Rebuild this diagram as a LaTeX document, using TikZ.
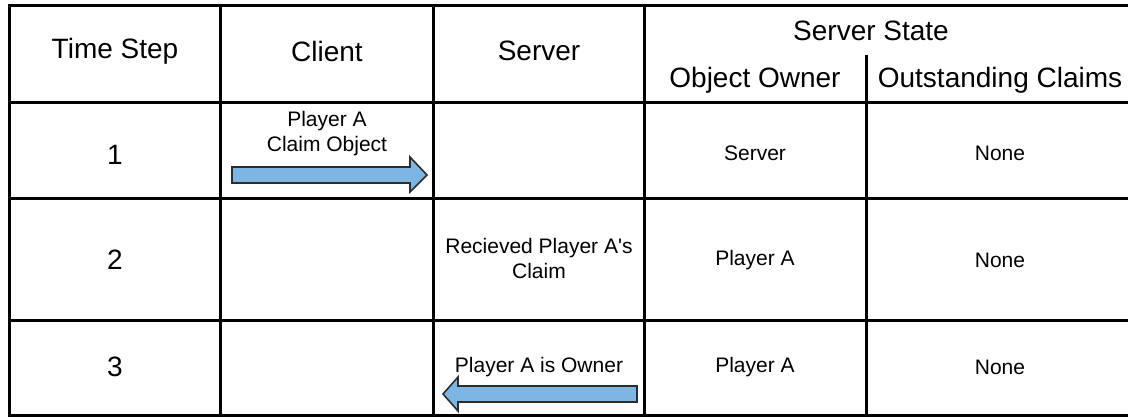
\documentclass[tikz,border=0pt]{standalone}
\usepackage{fontspec}
\setmainfont{Liberation Sans}
\definecolor{arrowblue}{RGB}{125,182,226}
\definecolor{arrowedge}{RGB}{45,45,45}
\begin{document}
\begin{tikzpicture}[x=1pt,y=-1pt,
  grid/.style={line width=3pt,black},
  big/.style={inner sep=0pt,font=\fontsize{28}{32}\selectfont},
  small/.style={inner sep=0pt,align=center,font=\fontsize{21}{25}\selectfont},
  blockarrow/.style={fill=arrowblue,draw=arrowedge,line width=1.6pt,line join=miter}]
\useasboundingbox (0,0) rectangle (1128,417);
\fill[white] (0,0) rectangle (1128,417);
% grid
\draw[grid] (1140,6) -- (9,6) -- (9,415) -- (1140,415);
\draw[grid] (9,103) -- (1140,103);
\draw[grid] (9,199) -- (1140,199);
\draw[grid] (9,320) -- (1140,320);
\draw[grid] (220,6) -- (220,415);
\draw[grid] (433,6) -- (433,415);
\draw[grid] (644,6) -- (644,415);
\draw[grid] (866,55) -- (866,415);
% header
\node[big] (hts) at (115,51) {Time Step};
\node[big] (hcl) at (327,51) {Client};
\node[big] (hsv) at (539,51) {Server};
\node[big] (hss) at (871,31) {Server State};
\node[big] (hoo) at (755,80) {Object Owner};
\node[big] (hoc) at (1000,80) {Outstanding Claims};
% row 1
\node[big] (r1) at (115,155) {1};
\node[small] (r1c) at (327,134) {Player A\\Claim Object};
\node[small] (r1o) at (755,153) {Server};
\node[small] (r1n) at (1000,153) {None};
\draw[blockarrow] (232,167) -- (410,167) -- (410,157) -- (427,175) -- (410,192) -- (410,183) -- (232,183) -- cycle;
% row 2
\node[big] (r2) at (115,260) {2};
\node[small] (r2s) at (539,258) {Recieved Player A\textquotesingle s\\Claim};
\node[small] (r2o) at (755,260) {Player A};
\node[small] (r2n) at (1000,260) {None};
% row 3
\node[big] (r3) at (115,367) {3};
\node[small] (r3s) at (539,367) {Player A is Owner};
\node[small] (r3o) at (755,367) {Player A};
\node[small] (r3n) at (1000,367) {None};
\draw[blockarrow] (637,386) -- (458,386) -- (458,377) -- (443,394) -- (458,411) -- (458,402) -- (637,402) -- cycle;
\end{tikzpicture}
\end{document}
